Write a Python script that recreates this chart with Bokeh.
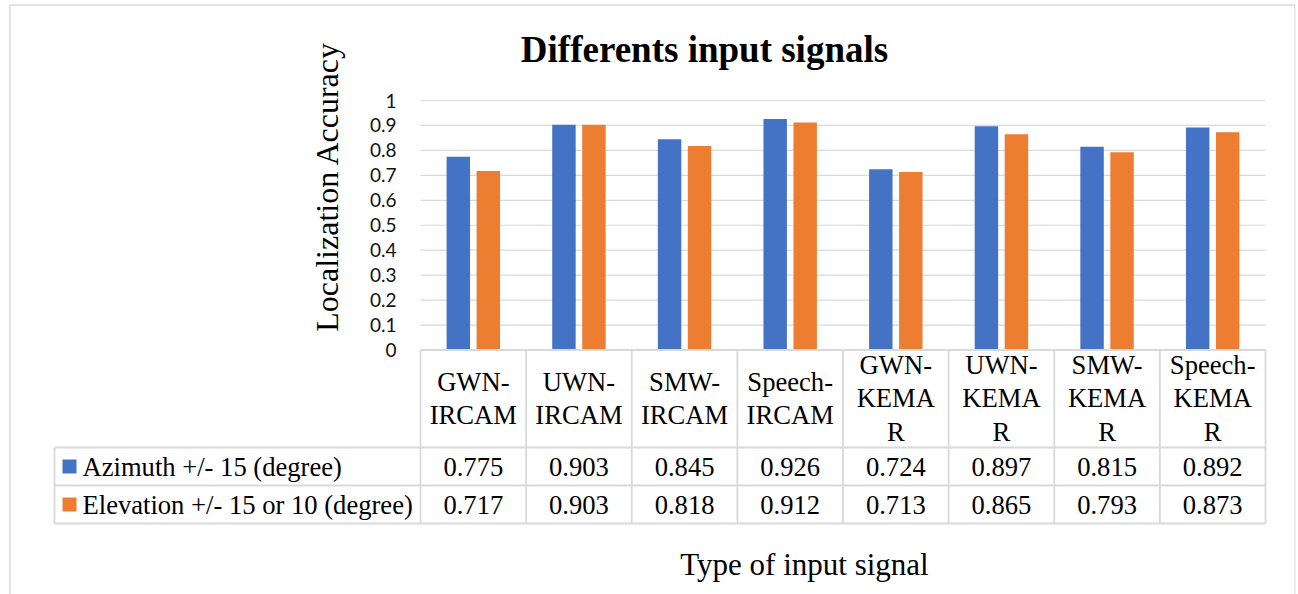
from bokeh.plotting import figure
from bokeh.models import ColumnDataSource, LinearAxis, FixedTicker, CustomJSTickFormatter
from bokeh.transform import dodge
from bokeh.core.properties import value
from bokeh.embed import file_html
from bokeh.resources import INLINE

# ---------------- data ----------------
categories = ["GWN-IRCAM", "UWN-IRCAM", "SMW-IRCAM", "Speech-IRCAM",
              "GWN-KEMAR", "UWN-KEMAR", "SMW-KEMAR", "Speech-KEMAR"]
header_labels = ["GWN-\nIRCAM", "UWN-\nIRCAM", "SMW-\nIRCAM", "Speech-\nIRCAM",
                 "GWN-\nKEMA\nR", "UWN-\nKEMA\nR", "SMW-\nKEMA\nR", "Speech-\nKEMA\nR"]
azimuth = [0.775, 0.903, 0.845, 0.926, 0.724, 0.897, 0.815, 0.892]
elevation = [0.717, 0.903, 0.818, 0.912, 0.713, 0.865, 0.793, 0.873]
series_names = ["Azimuth +/- 15 (degree)", "Elevation +/- 15 or 10 (degree)"]
series_colors = ["#4472C4", "#ED7D31"]
y_ticks = [0, 0.1, 0.2, 0.3, 0.4, 0.5, 0.6, 0.7, 0.8, 0.9, 1.0]
title_text = "Differents input signals"
y_title = "Localization Accuracy"
x_title = "Type of input signal"

# ---------------- layout helpers (pixel layout -> data units) ----------------
W = 105.625      # px per category
Y = 249.5        # px per unit of accuracy
X0 = 420.0       # px of left edge of plot area
Y0 = 349.5       # px of value 0
FRAME_L, FRAME_R, FRAME_T, FRAME_B = 8, 1295, 3, 594

def fx(px):
    return -0.5 + (px - X0) / W

def fy(py):
    return (Y0 - py) / Y

n = len(categories)
xs = list(range(n))

p = figure(width=1298, height=594, output_backend="svg", toolbar_location=None,
           x_range=(fx(FRAME_L), fx(FRAME_R)), y_range=(fy(FRAME_B), fy(FRAME_T)),
           x_axis_type=None, y_axis_type=None,
           min_border_left=FRAME_L, min_border_right=1298 - FRAME_R,
           min_border_top=FRAME_T, min_border_bottom=0,
           background_fill_color="white", border_fill_color="white")
p.outline_line_color = None
p.xgrid.visible = False
p.ygrid.visible = False

FONT_SERIF = value("Liberation Serif")
GRID = "#d9d9d9"
TABLE_FS = "26.6px"

# chart-area border (left, top, right)
p.segment(x0=[fx(9.5), fx(9.5), fx(1294.5)], y0=[fy(594), fy(4.5), fy(4.5)],
          x1=[fx(9.5), fx(1294.5), fx(1294.5)], y1=[fy(4.5), fy(4.5), fy(594)],
          line_color=GRID, line_width=1.5)

# horizontal gridlines 0.1 .. 1
gt = [t for t in y_ticks if t > 0]
p.segment(x0=[-0.5] * len(gt), x1=[n - 0.5] * len(gt), y0=gt, y1=gt,
          line_color=GRID, line_width=1.2)

# bars
src = ColumnDataSource(dict(x=xs, az=azimuth, el=elevation))
bw = 0.222
off = 0.142
p.vbar(x=dodge("x", -off), top="az", bottom=0, width=bw, source=src,
       fill_color=series_colors[0], line_color=None)
p.vbar(x=dodge("x", off), top="el", bottom=0, width=bw, source=src,
       fill_color=series_colors[1], line_color=None)

# y axis at the left edge of the plot area
yaxis = LinearAxis(ticker=FixedTicker(ticks=y_ticks),
                   formatter=CustomJSTickFormatter(code="return (Math.round(tick*10)/10).toString();"),
                   fixed_location=-0.5)
yaxis.axis_line_color = None
yaxis.major_tick_line_color = None
yaxis.minor_tick_line_color = None
yaxis.major_tick_out = 0
yaxis.major_label_standoff = 24
yaxis.major_label_text_font = "Lato"
yaxis.major_label_text_font_size = "19px"
yaxis.major_label_text_color = "#111111"
p.add_layout(yaxis, "left")

# ---------------- data table ----------------
y_hdr_bot = fy(447)
y_r1_bot = fy(485)
y_r2_bot = fy(523)
x_leg_left = fx(54)

hx0 = [-0.5, x_leg_left, x_leg_left, x_leg_left]
hx1 = [n - 0.5] * 4
hy = [0, y_hdr_bot, y_r1_bot, y_r2_bot]
p.segment(x0=hx0, x1=hx1, y0=hy, y1=hy, line_color=GRID, line_width=1.8)
vx = [k - 0.5 for k in range(n + 1)] + [x_leg_left]
vy0 = [0] * (n + 1) + [y_hdr_bot]
p.segment(x0=vx, x1=vx, y0=vy0, y1=[y_r2_bot] * (n + 2), line_color=GRID, line_width=1.8)

# header labels
p.text(x=xs, y=[fy(398)] * n, text=header_labels, text_font=FONT_SERIF,
       text_font_size=TABLE_FS, text_align="center", text_baseline="middle",
       text_line_height=1.13, text_color="black")

# value rows
p.text(x=xs, y=[fy(466)] * n, text=[f"{v:.3f}" for v in azimuth], text_font=FONT_SERIF,
       text_font_size=TABLE_FS, text_align="center", text_baseline="middle", text_color="black")
p.text(x=xs, y=[fy(504)] * n, text=[f"{v:.3f}" for v in elevation], text_font=FONT_SERIF,
       text_font_size=TABLE_FS, text_align="center", text_baseline="middle", text_color="black")

# legend keys in the table
p.scatter(x=[fx(69), fx(69)], y=[fy(466), fy(504)], marker="square", size=14,
          fill_color=series_colors, line_color=None)
p.text(x=[fx(82), fx(82)], y=[fy(466), fy(504)], text=series_names, text_font=FONT_SERIF,
       text_font_size=TABLE_FS, text_align="left", text_baseline="middle", text_color="black")

# titles
p.text(x=[fx(704)], y=[fy(49)], text=[title_text], text_font=FONT_SERIF,
       text_font_size="37px", text_font_style="bold", text_align="center",
       text_baseline="middle", text_color="black")
p.text(x=[fx(326)], y=[fy(186)], text=[y_title], text_font=FONT_SERIF, angle=1.5707963,
       text_font_size="32px", text_align="center", text_baseline="middle", text_color="black")
p.text(x=[fx(804)], y=[fy(564)], text=[x_title], text_font=FONT_SERIF,
       text_font_size="31px", text_align="center", text_baseline="middle", text_color="black")

open("out.html", "w").write(file_html(p, INLINE))
